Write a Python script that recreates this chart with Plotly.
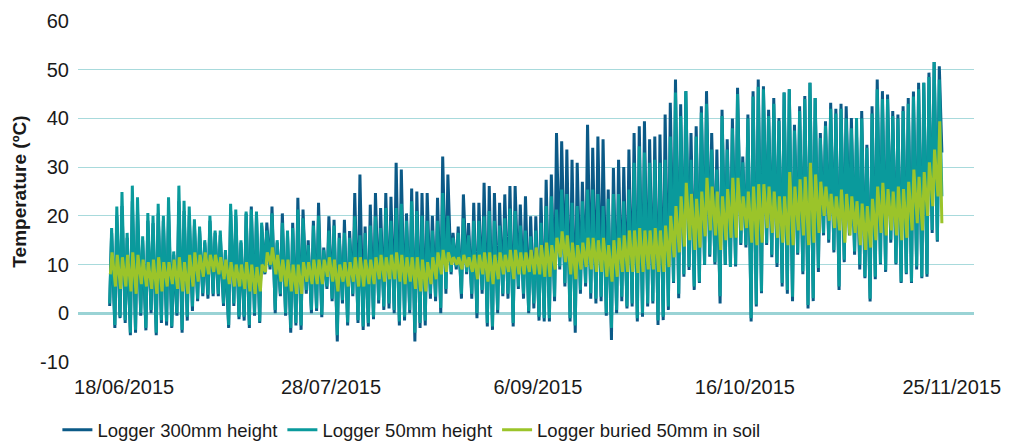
import pandas as pd
import plotly.graph_objects as go

# ---- data: daily extremes (day 0 = 15/06/2015) ----
START_DATE = "2015-06-15"

DARK_MAX = [16.5, 20.0, 22.0, 15.5, 23.0, 21.0, 15.0, 19.0, 18.5, 20.5, 19.0, 21.0, 12.0, 23.0, 21.0, 20.0, 18.0, 17.0, 14.5, 19.0, 16.5,
            16.0, 12.5, 21.0, 20.0, 14.5, 20.5, 21.9, 20.0, 18.0, 18.6, 21.9, 14.5, 20.5, 16.0, 18.6, 23.7, 21.3, 15.0, 19.0, 22.7,
            13.5, 19.9, 19.2, 16.5, 19.2, 16.9, 24.7, 28.5, 17.8, 22.3, 24.7, 21.6, 24.7, 23.9, 30.9, 29.5, 20.5, 25.6, 25.0, 24.7,
            24.7, 20.0, 23.7, 32.2, 28.5, 16.5, 17.8, 24.4, 18.5, 22.7, 22.7, 26.8, 26.1, 24.7, 22.7, 24.4, 26.1, 26.1, 22.3, 24.0,
            19.9, 19.9, 23.7, 27.4, 28.5, 37.0, 35.3, 33.6, 31.5, 30.9, 27.0, 38.7, 34.0, 36.3, 35.7, 25.4, 29.8, 31.5, 30.0, 33.6,
            37.0, 38.4, 39.4, 35.7, 36.3, 36.7, 40.8, 43.2, 48.0, 42.9, 45.6, 37.0, 38.4, 42.5, 45.6, 37.0, 33.6, 41.8, 35.7, 40.0,
            46.3, 32.2, 40.8, 45.6, 48.0, 46.6, 41.8, 44.2, 40.1, 45.3, 46.0, 38.7, 42.5, 44.6, 47.3, 44.2, 37.0, 39.4, 43.2, 42.0,
            43.0, 42.5, 40.1, 36.3, 41.5, 34.6, 42.5, 48.0, 45.6, 44.9, 41.5, 40.8, 42.5, 44.2, 45.5, 47.3, 47.3, 49.4, 51.6, 50.7]
DARK_MIN = [1.5, -3.0, -1.0, -2.0, -4.5, -4.0, -0.5, -3.5, 0.0, -4.5, -2.0, -2.5, -3.0, -0.5, -4.0, -1.5, 0.5, 2.5, 3.5, 3.0, 3.5,
            3.5, 1.5, -3.0, 1.5, -1.2, -1.5, -3.0, -0.5, -2.0, 8.0, 9.0, 0.0, 3.5, -0.5, -4.0, -2.5, -3.4, 4.0, 0.0, 0.5,
            -0.8, 5.0, 2.5, -5.8, 2.0, -2.5, 3.5, -2.0, -3.4, -2.7, -1.2, 2.0, 0.7, 1.0, 0.0, -2.5, -1.5, 0.0, -5.8, -3.0,
            -2.5, 3.0, 2.5, 0.0, 4.0, 8.0, 9.0, 3.0, 8.0, 3.0, -1.0, 4.0, -2.7, -3.4, 0.0, 3.5, 3.0, -2.7, 5.0, 3.0,
            0.0, 1.0, -1.5, -1.7, -1.7, 2.5, 9.0, 5.5, -1.7, -4.0, 4.0, 5.5, 3.0, 2.0, 2.5, -0.5, -5.5, 0.0, 2.5, 1.0,
            1.4, -1.7, -0.7, 1.4, 2.0, -2.4, -1.4, 0.7, 6.2, 3.1, 7.5, 8.9, 4.8, 6.2, 9.9, 11.6, 10.0, 2.0, 9.9, 9.6,
            9.6, 14.0, 13.5, -1.7, 1.4, 4.1, 14.0, 11.5, 9.5, 5.5, 4.0, 2.5, 12.0, 8.0, 1.0, 2.5, 8.5, 16.0, 14.5, 12.5,
            4.8, 10.5, 16.0, 12.0, 9.0, 7.2, 2.4, 7.0, 10.0, 8.5, 14.5, 10.0, 6.2, 8.0, 6.2, 9.0, 7.2, 7.5, 16.5, 14.7]

TEAL_MAX = [17.5, 21.9, 24.9, 16.5, 26.2, 23.8, 15.8, 20.6, 20.0, 22.5, 20.0, 23.8, 12.7, 26.2, 23.1, 21.9, 19.3, 17.8, 15.0, 20.0, 17.0,
            17.0, 13.0, 22.5, 21.3, 15.0, 20.9, 21.3, 20.9, 18.6, 17.0, 20.5, 15.0, 18.6, 17.0, 17.5, 21.3, 19.5, 14.0, 18.0, 20.0,
            13.0, 17.0, 18.0, 15.5, 16.5, 15.5, 19.9, 16.0, 16.5, 18.0, 19.9, 17.5, 21.6, 19.0, 21.6, 22.5, 19.0, 23.0, 21.0, 20.0,
            19.0, 17.0, 19.0, 24.7, 20.0, 15.5, 16.5, 19.5, 16.0, 19.0, 19.0, 19.9, 21.0, 19.0, 18.0, 19.5, 21.5, 21.0, 18.0, 17.0,
            15.8, 17.0, 18.6, 22.0, 24.0, 21.3, 25.4, 24.5, 22.7, 22.0, 23.0, 25.4, 25.4, 24.5, 22.0, 23.5, 24.5, 24.5, 23.0, 25.4,
            30.9, 34.3, 33.0, 30.9, 31.5, 30.9, 31.5, 36.3, 45.3, 40.5, 45.6, 31.5, 36.3, 41.2, 43.0, 33.6, 29.5, 40.5, 33.6, 38.0,
            45.0, 31.0, 40.0, 44.5, 46.5, 46.0, 40.5, 43.0, 39.5, 45.3, 46.0, 37.5, 41.5, 44.0, 47.3, 44.2, 36.0, 38.5, 42.0, 41.0,
            42.0, 40.0, 38.0, 40.1, 40.0, 34.0, 41.0, 46.0, 44.0, 44.0, 40.5, 40.0, 41.5, 43.0, 44.5, 46.0, 47.3, 48.5, 51.6, 48.0]
TEAL_MIN = [2.0, -2.4, -0.7, -1.4, -4.0, -3.4, 0.0, -3.0, 0.7, -4.0, -1.4, -1.7, -2.7, 0.0, -3.4, -0.7, 1.4, 3.0, 4.1, 3.8, 4.0,
            4.0, 2.0, -2.4, 2.0, -0.7, -0.7, -2.4, 0.0, -1.7, 8.3, 9.6, 0.7, 4.0, 0.0, -3.0, -2.0, -2.5, 4.8, 0.7, 1.0,
            -0.3, 5.5, 3.0, -4.5, 2.7, -1.9, 4.0, -1.4, -2.7, -2.0, -0.7, 2.7, 1.4, 2.0, 0.7, -1.7, -0.7, 0.7, -4.0, -2.0,
            -1.5, 4.0, 3.4, 1.1, 5.0, 8.5, 9.6, 4.0, 8.5, 4.0, 0.0, 4.8, -2.0, -2.7, 0.7, 4.0, 4.0, -2.0, 5.5, 4.0,
            0.5, 2.0, -0.7, -1.0, -1.0, 3.4, 9.6, 6.2, -1.0, -2.5, 4.8, 6.2, 4.1, 3.0, 3.4, 0.0, -3.0, 0.7, 3.4, 1.4,
            2.0, -1.0, 0.0, 2.0, 2.5, -1.5, -0.7, 1.4, 6.5, 4.0, 8.0, 9.5, 5.5, 6.5, 10.0, 12.0, 10.5, 3.5, 10.0, 9.5,
            10.0, 14.4, 14.0, -1.0, 1.8, 4.5, 14.4, 12.0, 10.3, 6.2, 4.8, 3.4, 12.4, 8.6, 1.7, 3.1, 9.3, 16.5, 15.1, 13.0,
            5.5, 11.0, 16.5, 12.7, 10.0, 7.5, 3.0, 7.5, 10.3, 8.9, 15.1, 10.3, 6.5, 8.3, 6.5, 9.6, 7.5, 8.0, 17.1, 15.0]

SOIL_MAX = [12.5, 12.0, 11.5, 12.0, 12.5, 12.0, 11.0, 10.5, 11.0, 11.5, 10.5, 10.5, 11.0, 11.5, 10.5, 12.0, 12.5, 12.0, 12.5, 12.0, 12.0,
            11.5, 11.0, 10.5, 10.0, 10.0, 10.5, 10.0, 9.5, 10.0, 12.5, 13.5, 12.0, 11.0, 11.0, 10.0, 10.0, 10.5, 10.5, 11.0, 11.0,
            11.0, 11.5, 11.0, 10.0, 10.5, 10.5, 11.5, 11.5, 11.0, 11.0, 11.5, 12.0, 11.5, 12.0, 12.5, 12.0, 11.5, 11.5, 11.5, 11.0,
            10.5, 11.5, 12.5, 13.0, 12.5, 11.5, 11.5, 12.0, 11.5, 12.0, 12.0, 12.5, 12.5, 12.0, 12.5, 12.0, 13.0, 13.0, 12.5, 12.5,
            13.0, 13.5, 14.0, 14.5, 14.0, 15.5, 16.8, 16.0, 14.5, 14.0, 14.5, 15.5, 15.5, 15.0, 15.5, 14.0, 15.0, 15.5, 16.0, 17.0,
            17.0, 17.5, 17.0, 17.0, 17.5, 17.0, 18.0, 20.0, 22.0, 24.0, 26.8, 24.5, 23.5, 25.0, 27.8, 26.0, 25.0, 24.0, 25.5, 27.8,
            27.8, 24.0, 25.0, 26.0, 26.5, 26.5, 26.0, 25.0, 24.0, 24.0, 29.0, 26.0, 27.5, 28.0, 30.9, 28.5, 27.0, 26.0, 24.5, 24.0,
            25.4, 24.5, 24.0, 23.0, 22.5, 22.0, 23.5, 26.0, 26.8, 25.5, 25.0, 26.0, 25.5, 27.0, 29.5, 28.0, 29.0, 31.0, 33.6, 39.4]
SOIL_MIN = [8.0, 5.5, 5.0, 5.5, 4.5, 4.0, 6.0, 5.5, 5.0, 4.0, 4.5, 5.5, 6.0, 5.0, 4.5, 4.0, 5.5, 6.5, 7.5, 8.0, 8.5,
            8.0, 7.0, 6.0, 5.5, 5.5, 5.0, 4.5, 4.0, 4.5, 8.5, 10.0, 8.0, 6.5, 5.5, 4.5, 4.0, 4.0, 6.5, 6.0, 6.0,
            6.0, 7.5, 6.5, 4.5, 6.5, 5.5, 6.5, 5.5, 5.5, 6.0, 6.0, 7.0, 6.5, 7.0, 7.0, 6.5, 6.0, 6.5, 5.0, 4.5,
            4.5, 6.0, 7.0, 8.0, 8.5, 10.0, 10.0, 9.0, 9.5, 8.5, 7.0, 8.0, 6.5, 6.0, 7.0, 8.0, 8.5, 7.0, 8.0, 8.0,
            8.5, 8.0, 8.0, 7.5, 7.5, 9.0, 11.5, 10.5, 8.0, 7.0, 9.0, 9.5, 9.0, 8.5, 8.5, 7.5, 6.5, 7.5, 8.5, 8.5,
            8.5, 8.3, 8.5, 9.0, 9.0, 8.5, 8.5, 9.5, 11.5, 12.5, 13.7, 15.0, 13.0, 13.5, 15.8, 17.0, 16.0, 13.0, 15.0, 15.5,
            15.5, 17.0, 17.5, 14.5, 14.0, 14.5, 17.5, 16.5, 15.5, 14.5, 14.0, 14.0, 17.0, 16.0, 14.0, 14.5, 16.5, 20.0, 19.0, 17.5,
            17.0, 14.5, 16.0, 16.5, 14.0, 13.0, 13.5, 15.0, 16.5, 16.0, 17.0, 16.0, 15.0, 15.5, 17.0, 18.5, 17.0, 20.0, 22.0, 24.0]

# last logged readings (early on 23/11/2015)
DARK_END = 33.0
TEAL_END = 24.0
SOIL_END = 18.5

TICK_DATES = ["2015-06-18", "2015-07-28", "2015-09-06", "2015-10-16", "2015-11-25"]
TICK_TEXT = ["18/06/2015", "28/07/2015", "6/09/2015", "16/10/2015", "25/11/2015"]
Y_TICKS = [-10, 0, 10, 20, 30, 40, 50, 60]
Y_TICK_TEXT = ["-10", "0", "10", "20", "30", "40", "50", "60"]

NAMES = ["Logger 300mm height", "Logger 50mm height", "Logger buried 50mm in soil"]
COLORS = ["#0b5a87", "#0a9a9c", "#9bc42a"]


def build(mins, maxs, end_val, h_min, h_max):
    days = pd.date_range(START_DATE, periods=len(maxs), freq="D")
    t, v = [], []
    for d, lo, hi in zip(days, mins, maxs):
        t += [d + pd.Timedelta(hours=h_min), d + pd.Timedelta(hours=h_max)]
        v += [lo, hi]
    t.append(days[-1] + pd.Timedelta(hours=26))
    v.append(end_val)
    return t, v


series = [
    build(DARK_MIN, DARK_MAX, DARK_END, 5, 14),
    build(TEAL_MIN, TEAL_MAX, TEAL_END, 5, 14),
    build(SOIL_MIN, SOIL_MAX, SOIL_END, 8, 16),
]

fig = go.Figure()
for (t, v), name, col in zip(series, NAMES, COLORS):
    fig.add_trace(go.Scatter(x=t, y=v, mode="lines", name=name,
                             line=dict(color=col, width=3)))

FONT = "Liberation Sans, Arial, Helvetica, sans-serif"
fig.update_layout(
    width=1011, height=444,
    margin=dict(l=78, r=37, t=21, b=82, autoexpand=False),
    paper_bgcolor="white", plot_bgcolor="white",
    font=dict(family=FONT, color="#1a1a1a", size=19),
    showlegend=True,
    legend=dict(orientation="h", x=-0.023, xanchor="left", y=-0.2, yanchor="middle",
                font=dict(size=18.5, color="#1a1a1a"), itemwidth=30,
                traceorder="normal", bgcolor="rgba(0,0,0,0)"),
    xaxis=dict(type="date",
               range=["2015-06-09 02:00", "2015-11-29 07:00"],
               tickvals=TICK_DATES, ticktext=TICK_TEXT,
               showgrid=False, zeroline=False, showline=False,
               ticks="outside", ticklen=7, tickcolor="rgba(0,0,0,0)",
               tickfont=dict(size=20, family=FONT, color="#1a1a1a")),
    yaxis=dict(range=[-10, 60], tickvals=Y_TICKS, ticktext=Y_TICK_TEXT,
               showgrid=True, gridcolor="#a8dadc", gridwidth=1.2,
               zeroline=True, zerolinecolor="#9ad3d5", zerolinewidth=3,
               showline=False, automargin=False,
               ticks="outside", ticklen=4, tickcolor="rgba(0,0,0,0)",
               tickfont=dict(size=20, family=FONT, color="#1a1a1a"),
               title=dict(text="<b>Temperature (ºC)</b>", standoff=8,
                          font=dict(size=19, family=FONT, color="#1a1a1a"))),
)

fig.write_html("out.html", config={"displayModeBar": False},
               post_script="document.body.style.margin='0';")
